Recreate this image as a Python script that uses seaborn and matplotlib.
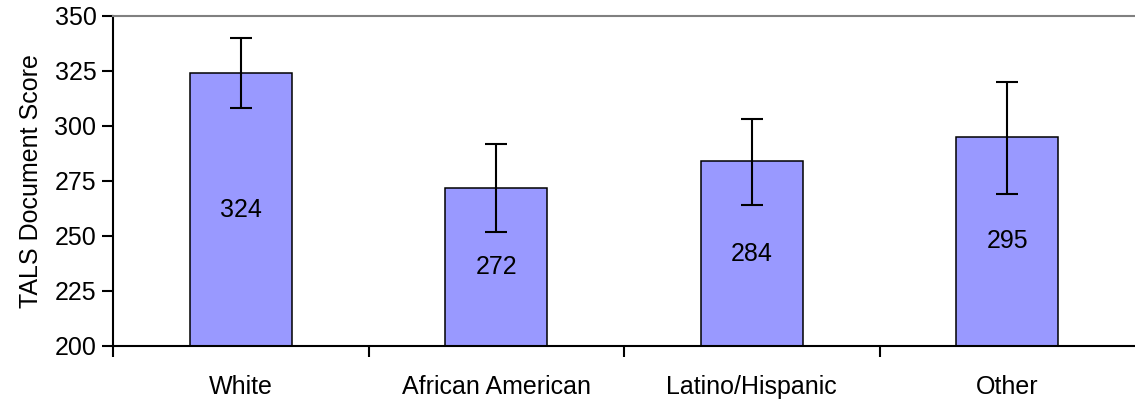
import matplotlib
matplotlib.use("Agg")
import matplotlib.pyplot as plt
import seaborn as sns
import pandas as pd
import numpy as np

# data
groups = ["White", "African American", "Latino/Hispanic", "Other"]
scores = [324, 272, 284, 295]
err_low = [308, 252, 264, 269]
err_high = [340, 292, 303, 320]

sns.set_theme(style="white")
plt.rcParams["font.family"] = ["Liberation Sans", "DejaVu Sans"]
plt.rcParams["text.color"] = "black"
plt.rcParams["axes.labelcolor"] = "black"
plt.rcParams["xtick.labelcolor"] = "black"
plt.rcParams["ytick.labelcolor"] = "black"

df = pd.DataFrame({"group": groups, "score": scores})

fig = plt.figure(figsize=(11.35, 4.04), dpi=100)
ax = fig.add_axes([0.0996, 0.1436, 0.9004, 0.8168])

sns.barplot(data=df, x="group", y="score", color="#9999FF", saturation=1,
            width=0.40, edgecolor="black", linewidth=1.1, errorbar=None, ax=ax)

# error bars (given as low/high values)
pos = np.arange(len(groups))
lo = np.array(scores) - np.array(err_low)
hi = np.array(err_high) - np.array(scores)
ax.errorbar(pos, scores, yerr=[lo, hi], fmt="none", ecolor="black",
            elinewidth=1.5, capsize=8, capthick=1.5)

# value labels in the middle of each bar
for i, v in enumerate(scores):
    ax.text(i, (200 + v) / 2, str(v), ha="center", va="center",
            fontsize=18, color="black")

ax.set_ylim(200, 350)
ax.set_xlim(-0.5, 3.5)
ax.set_yticks(range(200, 351, 25))
ax.set_xticks(pos)
ax.set_xticklabels(groups)
ax.set_xticks([-0.5, 0.5, 1.5, 2.5], minor=True)
ax.tick_params(axis="x", which="major", length=0, pad=21, labelsize=18)
ax.tick_params(axis="x", which="minor", length=8, width=1.5, direction="out",
               bottom=True, color="black")
ax.tick_params(axis="y", length=8, width=1.5, direction="out", left=True,
               color="black", labelsize=18, pad=4)
ax.set_xlabel("")
ax.set_ylabel("TALS Document Score", fontsize=18, labelpad=8)

ax.spines["left"].set_color("black")
ax.spines["left"].set_linewidth(1.5)
ax.spines["bottom"].set_color("black")
ax.spines["bottom"].set_linewidth(1.5)
ax.spines["top"].set_color("#808080")
ax.spines["top"].set_linewidth(1.5)
ax.spines["right"].set_visible(False)

fig.savefig("out.png", dpi=100)
